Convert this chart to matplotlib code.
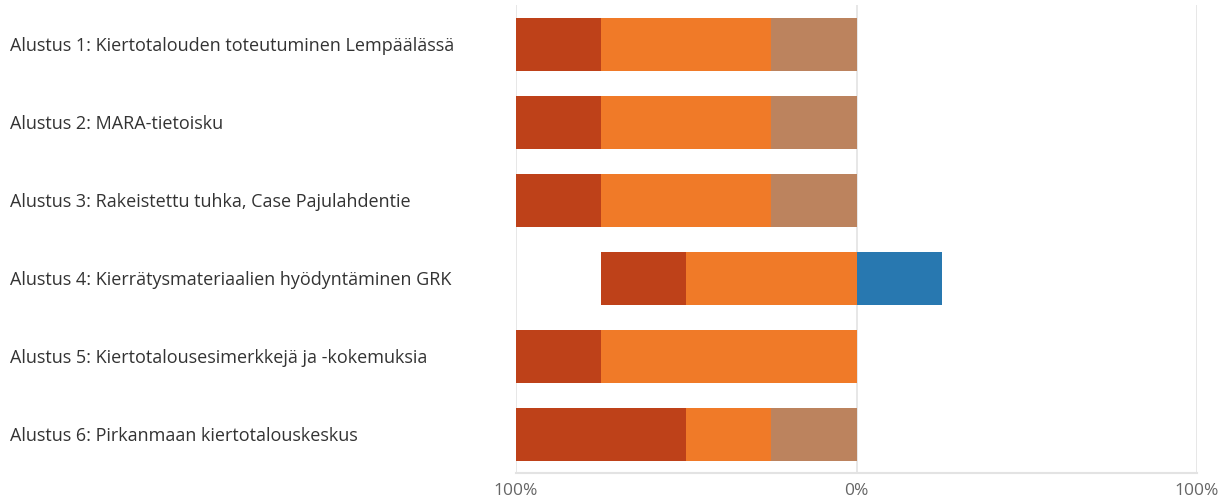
import matplotlib.pyplot as plt
import numpy as np

plt.rcParams['font.family'] = ['Open Sans', 'DejaVu Sans']

labels = [
    'Alustus 1: Kiertotalouden toteutuminen Lempäälässä',
    'Alustus 2: MARA-tietoisku',
    'Alustus 3: Rakeistettu tuhka, Case Pajulahdentie',
    'Alustus 4: Kierrätysmateriaalien hyödyntäminen GRK',
    'Alustus 5: Kiertotalousesimerkkejä ja -kokemuksia',
    'Alustus 6: Pirkanmaan kiertotalouskeskus',
]
# shares in percent; first three stack to the left of 0, last one to the right
dark_red = [25, 25, 25, 25, 25, 50]
orange = [50, 50, 50, 50, 75, 25]
tan = [25, 25, 25, 0, 0, 25]
blue = [0, 0, 0, 25, 0, 0]
tick_vals = [-100, 0, 100]
tick_labels = ['100%', '0%', '100%']

colors = ['#BE4119', '#F07A28', '#BC835E', '#2878B0']

fig = plt.figure(figsize=(12.3, 5.03), dpi=100)
ax = fig.add_axes([0.4195, 0.0596, 0.5537, 0.9304])

y = np.arange(len(labels))
h = 0.68

# negative side: tan nearest zero, then orange, then dark red
left = -np.array(tan, dtype=float)
ax.barh(y, -left, left=left, height=h, color=colors[2], edgecolor='none', zorder=2)
left2 = left - np.array(orange)
ax.barh(y, orange, left=left2, height=h, color=colors[1], edgecolor='none', zorder=2)
left3 = left2 - np.array(dark_red)
ax.barh(y, dark_red, left=left3, height=h, color=colors[0], edgecolor='none', zorder=2)
ax.barh(y, blue, left=0, height=h, color=colors[3], edgecolor='none', zorder=2)

ax.set_xlim(-100, 100)
ax.set_ylim(len(labels) - 0.5, -0.5)

for v in tick_vals:
    ax.axvline(v, color='#e3e3e3', lw=1.2, zorder=1)
ax.plot([-100, 100], [len(labels) - 0.5] * 2, color='#e3e3e3', lw=1.5, clip_on=False, zorder=1)

for s in ax.spines.values():
    s.set_visible(False)

ax.set_yticks([])
ax.set_xticks(tick_vals)
ax.set_xticklabels(tick_labels, color='#666666', fontsize=12.5)
ax.tick_params(axis='x', length=0, pad=7)

for i, lab in enumerate(labels):
    ax.annotate(lab, xy=(10 / 1230, 0), xycoords=('figure fraction', 'data'),
                xytext=(10 / 1230, i + 0.03), textcoords=('figure fraction', 'data'),
                ha='left', va='center', fontsize=13, color='#333333')

fig.savefig('out.png', dpi=100)
